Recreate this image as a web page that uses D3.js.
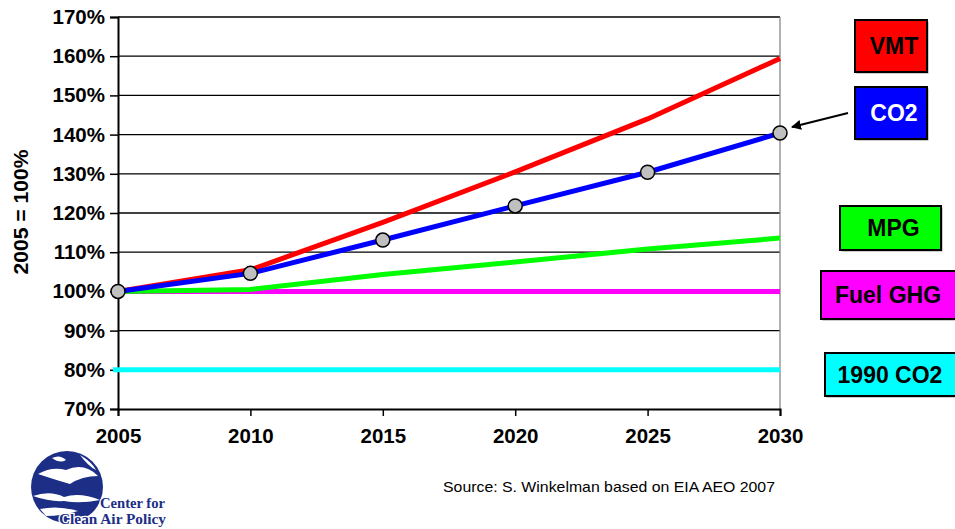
<!DOCTYPE html>
<html><head><meta charset="utf-8">
<script src="https://cdn.jsdelivr.net/npm/d3@7"></script>
<style>body{margin:0;background:#fff}svg{display:block}</style>
</head><body><svg id="c" width="955" height="529" font-family="Liberation Sans, Arial, sans-serif"></svg>
<script>
const years = [2005, 2010, 2015, 2020, 2025, 2030];
const yTicks = [70, 80, 90, 100, 110, 120, 130, 140, 150, 160, 170];
const vmt = [100, 105.5, 117.6, 130.5, 144, 159.4];
const co2 = [100, 104.6, 113.1, 121.8, 130.4, 140.4];
const mpg = [100, 100.5, 104.3, 107.5, 110.8, 113.6];
const fuelGhg = [100, 100, 100, 100, 100, 100];
const co2_1990 = [80, 80, 80, 80, 80, 80];
const seriesNames = ["VMT", "CO2", "MPG", "Fuel GHG", "1990 CO2"];
const seriesColors = ["#ff0000", "#0000ff", "#00ff00", "#ff00ff", "#00ffff"];

const svg = d3.select("#c");
const x = d3.scaleLinear().domain([2005, 2030]).range([118, 780]);
const y = d3.scaleLinear().domain([70, 170]).range([409, 17]);

// gridlines
svg.append("g").selectAll("line").data(yTicks.filter(t => t > 70)).join("line")
  .attr("x1", x(2005)).attr("x2", x(2030)).attr("y1", d => y(d)).attr("y2", d => y(d))
  .attr("stroke", "#000").attr("stroke-width", 1.3);
// right border
svg.append("line").attr("x1", x(2030)).attr("x2", x(2030)).attr("y1", y(170)).attr("y2", y(70))
  .attr("stroke", "#888").attr("stroke-width", 1.3);

// axes
const yAxis = d3.axisLeft(y).tickValues(yTicks).tickFormat(d => d + "%").tickSize(8).tickPadding(5);
const gy = svg.append("g").attr("transform", `translate(${x(2005)},0)`).call(yAxis)
  .attr("font-family", "Liberation Sans, Arial, sans-serif");
gy.select(".domain").attr("stroke", "#000").attr("stroke-width", 2);
gy.selectAll(".tick line").attr("stroke", "#000").attr("stroke-width", 1.5);
gy.selectAll("text").attr("font-size", 20.5).attr("font-weight", "bold").attr("fill", "#000");

const xAxis = d3.axisBottom(x).tickValues(years).tickFormat(d3.format("d")).tickSize(7).tickPadding(12);
const gx = svg.append("g").attr("transform", `translate(0,${y(70)})`).call(xAxis)
  .attr("font-family", "Liberation Sans, Arial, sans-serif");
gx.select(".domain").attr("stroke", "#000").attr("stroke-width", 2);
gx.selectAll(".tick line").attr("stroke", "#000").attr("stroke-width", 1.5);
gx.selectAll("text").attr("font-size", 20.5).attr("font-weight", "bold").attr("fill", "#000");

// y title
svg.append("text").attr("transform", "translate(28,212) rotate(-90)").attr("text-anchor", "middle")
  .attr("font-size", 19.5).attr("font-weight", "bold").attr("textLength", 125)
  .attr("lengthAdjust", "spacingAndGlyphs").text("2005 = 100%");

// lines
const line = d3.line().x((d, i) => x(years[i])).y(d => y(d));
const drawOrder = [[co2_1990, 4], [fuelGhg, 3], [mpg, 2], [vmt, 0], [co2, 1]];
drawOrder.forEach(([data, ci]) => {
  svg.append("path").datum(data).attr("d", line).attr("fill", "none")
    .attr("stroke", seriesColors[ci]).attr("stroke-width", 5);
});
// 1990 line extends slightly left of axis
svg.append("line").attr("x1", x(2005) - 5).attr("x2", x(2005)).attr("y1", y(80)).attr("y2", y(80))
  .attr("stroke", seriesColors[4]).attr("stroke-width", 5);

// markers on CO2
svg.append("g").selectAll("circle").data(co2).join("circle")
  .attr("cx", (d, i) => x(years[i])).attr("cy", d => y(d)).attr("r", 7)
  .attr("fill", "#c0c0c0").attr("stroke", "#000").attr("stroke-width", 1.5);

// legend boxes
const boxes = [
  {i: 0, x: 855, y: 20, w: 72, h: 52, tc: "#000"},
  {i: 1, x: 855, y: 87, w: 72, h: 52, tc: "#fff"},
  {i: 2, x: 840, y: 206, w: 101, h: 44, tc: "#000"},
  {i: 3, x: 821, y: 271, w: 140, h: 48, tc: "#000"},
  {i: 4, x: 825, y: 353, w: 135, h: 43, tc: "#000"}
];
boxes.forEach(b => {
  svg.append("rect").attr("x", b.x + 1.5).attr("y", b.y + 1.5).attr("width", b.w).attr("height", b.h).attr("fill", "#999");
  svg.append("rect").attr("x", b.x).attr("y", b.y).attr("width", b.w).attr("height", b.h)
    .attr("fill", seriesColors[b.i]).attr("stroke", "#000").attr("stroke-width", 2);
  const cx = b.x + Math.min(b.w, 955 - b.x - 6) / 2 + 3;
  svg.append("text").attr("x", cx).attr("y", b.y + b.h / 2 + 8).attr("text-anchor", "middle")
    .attr("font-size", 23).attr("font-weight", "bold").attr("fill", b.tc).text(seriesNames[b.i]);
});

// arrow
svg.append("defs").append("marker").attr("id", "ah").attr("viewBox", "0 0 10 10").attr("refX", 9).attr("refY", 5)
  .attr("markerWidth", 5).attr("markerHeight", 5).attr("orient", "auto")
  .append("path").attr("d", "M0,0 L10,5 L0,10 z").attr("fill", "#000");
svg.append("line").attr("x1", 848).attr("y1", 113).attr("x2", 792).attr("y2", 127)
  .attr("stroke", "#000").attr("stroke-width", 2).attr("marker-end", "url(#ah)");

// source
svg.append("text").attr("x", 443).attr("y", 492).attr("font-size", 15).attr("textLength", 332)
  .attr("lengthAdjust", "spacingAndGlyphs").text("Source: S. Winkelman based on EIA AEO 2007");

// logo
const lg = svg.append("g");
lg.append("circle").attr("cx", 67).attr("cy", 487).attr("r", 36).attr("fill", "#1c2e86");
lg.append("path").attr("d", "M38,474 Q52,466 66,470 Q84,462 98,476 Q82,476 70,484 Q56,480 38,474 Z").attr("fill", "#fff");
lg.append("path").attr("d", "M33,496 Q50,490 64,497 Q80,492 100,500 Q80,504 64,501 Q50,502 33,496 Z").attr("fill", "#fff");
lg.append("path").attr("d", "M52,458 Q60,454 66,460 Q60,464 52,458 Z").attr("fill", "#fff");
lg.append("path").attr("d", "M40,509 Q58,505 78,511 Q62,516 46,516 Z").attr("fill", "#fff");
lg.append("path").attr("d", "M80,455 Q92,462 96,470 Q88,466 80,455 Z").attr("fill", "#fff");
const serif = "Liberation Serif, Times New Roman, serif";
lg.append("text").attr("x", 100).attr("y", 508).attr("font-family", serif)
  .attr("font-size", 14).attr("font-weight", "bold").attr("fill", "#1c2e86")
  .attr("stroke", "#fff").attr("stroke-width", 2.5).attr("paint-order", "stroke")
  .attr("textLength", 65).attr("lengthAdjust", "spacingAndGlyphs").text("Center for");
lg.append("text").attr("x", 59).attr("y", 524).attr("font-family", serif)
  .attr("font-size", 14).attr("font-weight", "bold").attr("fill", "#1c2e86")
  .attr("stroke", "#fff").attr("stroke-width", 2.5).attr("paint-order", "stroke")
  .attr("textLength", 107).attr("lengthAdjust", "spacingAndGlyphs").text("Clean Air Policy");
</script></body></html>
